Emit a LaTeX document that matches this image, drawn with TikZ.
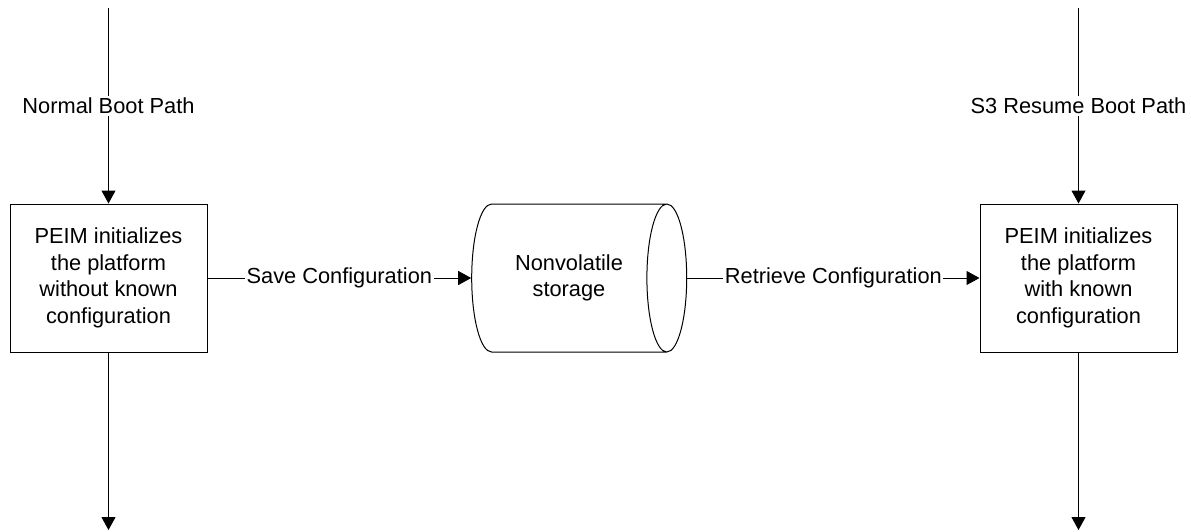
\documentclass[tikz,border=0pt]{standalone}
\usepackage{fontspec}
\setmainfont{Liberation Sans}
\usetikzlibrary{arrows.meta,positioning,shapes.geometric}
\definecolor{inkline}{HTML}{000000}

\begin{document}
\begin{tikzpicture}[
    x=1pt, y=-1pt,
    font=\fontsize{21.8}{26.5}\selectfont,
    line width=1pt,
    stagebox/.style={draw=inkline, minimum width=197pt, minimum height=148pt,
      align=center, inner sep=0pt},
    flow/.style={draw=inkline, -{Triangle[length=13pt,width=14pt]}},
    lbl/.style={fill=white, inner xsep=1.5pt, inner ysep=2pt}
  ]
  \useasboundingbox (0,0) rectangle (1191,531);

  \node[stagebox] (initbox) at (108.5,278) {PEIM initializes\\the platform\\without known\\configuration};
  \node[
    cylinder,
    draw=inkline,
    aspect=0.85,
    minimum width=148pt,
    minimum height=215pt,
    shape border rotate=0,
    align=center,
    inner sep=0pt
  ] (nvstore) at (569,278) {Nonvolatile\\storage};
  \node[stagebox] (resumebox) at (1078.5,278) {PEIM initializes\\the platform\\with known\\configuration};

  \coordinate (normaltop) at (108.5,8);
  \coordinate (normalend) at (108.5,530);
  \coordinate (resumetop) at (1078.5,8);
  \coordinate (resumeend) at (1078.5,530);

  \draw[flow] (normaltop) -- node[lbl] {Normal Boot Path} (initbox.north);
  \draw[flow] (initbox.south) -- (normalend);
  \draw[flow] (resumetop) -- node[lbl] {S3 Resume Boot Path} (resumebox.north);
  \draw[flow] (resumebox.south) -- (resumeend);

  \draw[flow] (initbox.east) -- node[lbl] {Save Configuration} (nvstore.west);
  \draw[flow] (nvstore.east) -- node[lbl] {Retrieve Configuration} (resumebox.west);
\end{tikzpicture}
\end{document}
